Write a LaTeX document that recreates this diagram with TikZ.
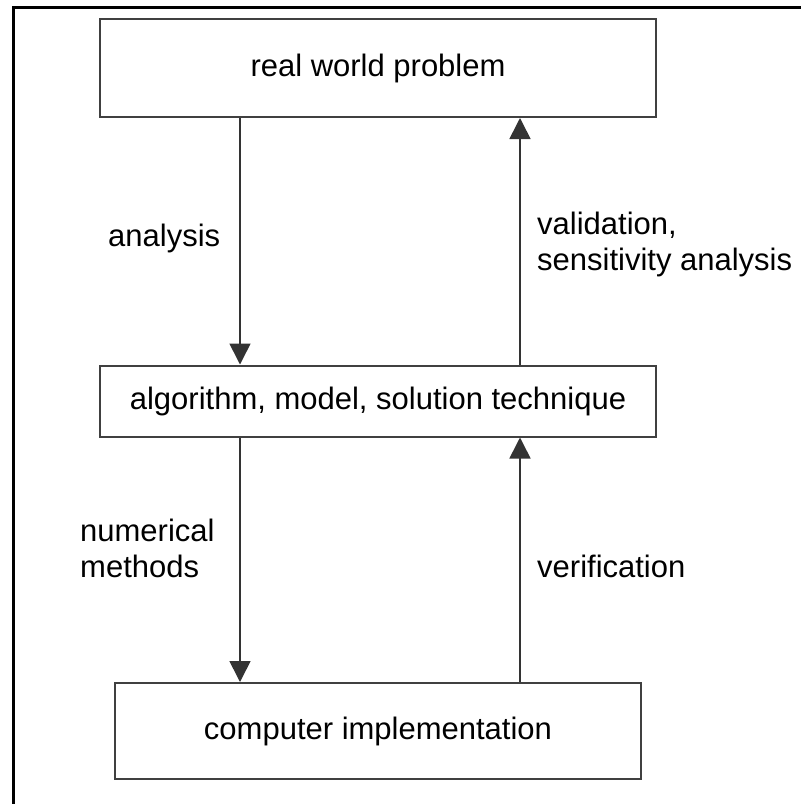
\documentclass[tikz,border=0pt]{standalone}
\usepackage{fontspec}
\setmainfont{Liberation Sans}
\usetikzlibrary{arrows.meta}
\begin{document}
\begin{tikzpicture}[x=1pt,y=-1pt,
  stage/.style={draw=black!75,line width=2pt,inner sep=0pt,font=\fontsize{31}{37}\selectfont},
  flow/.style={draw=black!80,line width=1.6pt,-{Triangle[width=21pt,length=21pt]}},
  lbl/.style={font=\fontsize{31}{36}\selectfont,anchor=west,inner sep=0pt,align=left}]
  \useasboundingbox (0,0) rectangle (801,804);
  % outer frame (only top and left edges fall inside the page)
  \draw[line width=3pt] (13,810) -- (13,7) -- (810,7);
  % stages
  \node[stage,minimum width=556pt,minimum height=98pt] (problem) at (378,68) {real world problem};
  \node[stage,minimum width=556pt,minimum height=71pt] (model) at (378,401) {algorithm, model, solution technique};
  \node[stage,minimum width=526pt,minimum height=96pt] (impl) at (378,731) {computer implementation};
  % connectors
  \draw[flow] (problem.south -| 240,0) -- (model.north -| 240,0);
  \draw[flow] (model.north -| 520,0) -- (problem.south -| 520,0);
  \draw[flow] (model.south -| 240,0) -- (impl.north -| 240,0);
  \draw[flow] (impl.north -| 520,0) -- (model.south -| 520,0);
  % labels
  \node[lbl] (lanalysis) at (108,238) {analysis};
  \node[lbl] (lvalid) at (537,244) {validation,\\sensitivity analysis};
  \node[lbl] (lnum) at (80,548) {numerical\\methods};
  \node[lbl] (lverif) at (537,566) {verification};
\end{tikzpicture}
\end{document}
